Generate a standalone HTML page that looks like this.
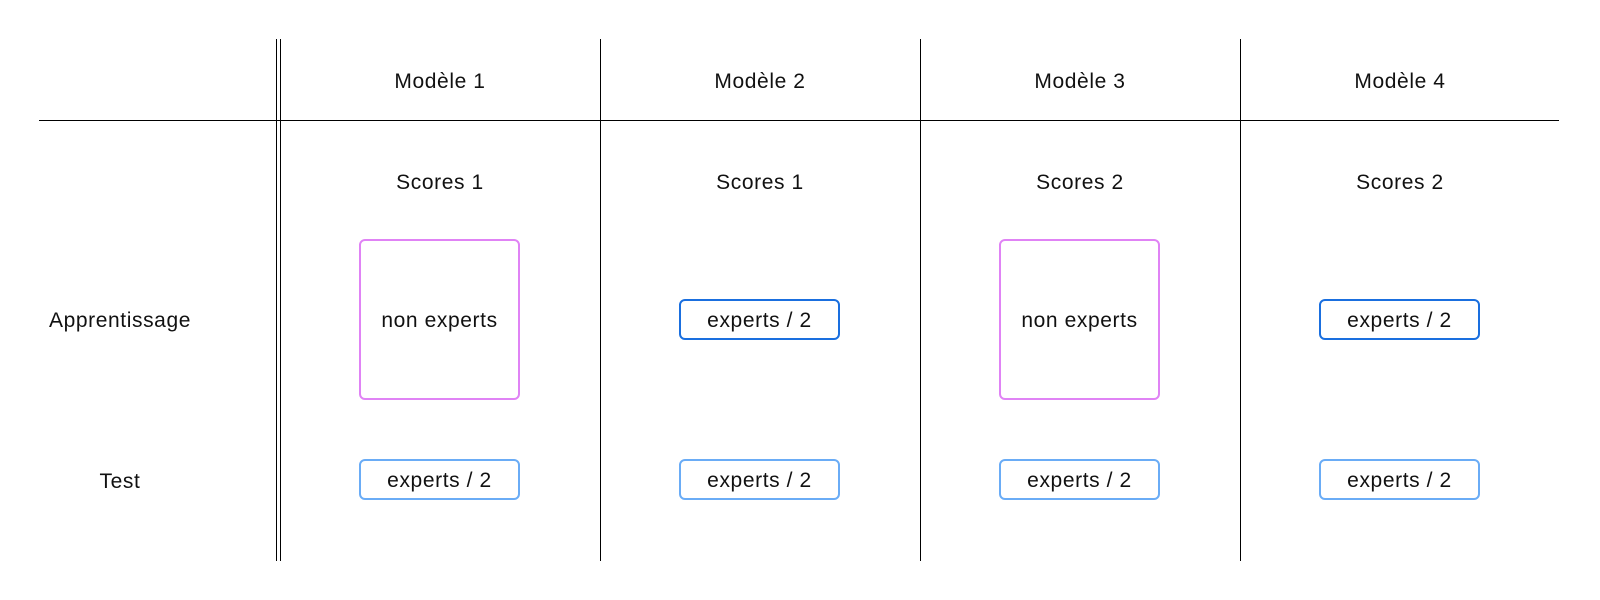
<!DOCTYPE html>
<html><head><meta charset="utf-8"><style>
body{margin:0;width:1600px;height:600px;background:#fff;position:relative;font-family:"Liberation Sans",sans-serif;color:#111;overflow:hidden}
.l{position:absolute;background:#000}
.t{position:absolute;font-size:21px;letter-spacing:0.6px;transform:translate(-50%,-50%);white-space:nowrap}
.b{position:absolute;box-sizing:border-box;border-radius:6px;display:flex;align-items:center;justify-content:center;font-size:21px;letter-spacing:0.6px;background:#fff;padding-top:3px}
.pink{border:2px solid #e083f5}
.dark{border:2px solid #1a6fdf}
.light{border:2px solid #6aacf6}
</style></head><body>
<div class="l" style="left:39px;top:120px;width:1520px;height:1px"></div>
<div class="l" style="left:276px;top:39px;width:1px;height:522px"></div>
<div class="l" style="left:280px;top:39px;width:1px;height:522px"></div>
<div class="l" style="left:600px;top:39px;width:1px;height:522px"></div>
<div class="l" style="left:920px;top:39px;width:1px;height:522px"></div>
<div class="l" style="left:1240px;top:39px;width:1px;height:522px"></div>

<div class="t" style="left:440px;top:82px">Modèle 1</div>
<div class="t" style="left:760px;top:82px">Modèle 2</div>
<div class="t" style="left:1080px;top:82px">Modèle 3</div>
<div class="t" style="left:1400px;top:82px">Modèle 4</div>

<div class="t" style="left:440px;top:183px">Scores 1</div>
<div class="t" style="left:760px;top:183px">Scores 1</div>
<div class="t" style="left:1080px;top:183px">Scores 2</div>
<div class="t" style="left:1400px;top:183px">Scores 2</div>

<div class="t" style="left:120px;top:321px">Apprentissage</div>
<div class="t" style="left:120px;top:482px">Test</div>

<div class="b pink" style="left:359px;top:239px;width:161px;height:161px">non experts</div>
<div class="b dark" style="left:679px;top:299px;width:161px;height:41px">experts / 2</div>
<div class="b pink" style="left:999px;top:239px;width:161px;height:161px">non experts</div>
<div class="b dark" style="left:1319px;top:299px;width:161px;height:41px">experts / 2</div>

<div class="b light" style="left:359px;top:459px;width:161px;height:41px">experts / 2</div>
<div class="b light" style="left:679px;top:459px;width:161px;height:41px">experts / 2</div>
<div class="b light" style="left:999px;top:459px;width:161px;height:41px">experts / 2</div>
<div class="b light" style="left:1319px;top:459px;width:161px;height:41px">experts / 2</div>
</body></html>
